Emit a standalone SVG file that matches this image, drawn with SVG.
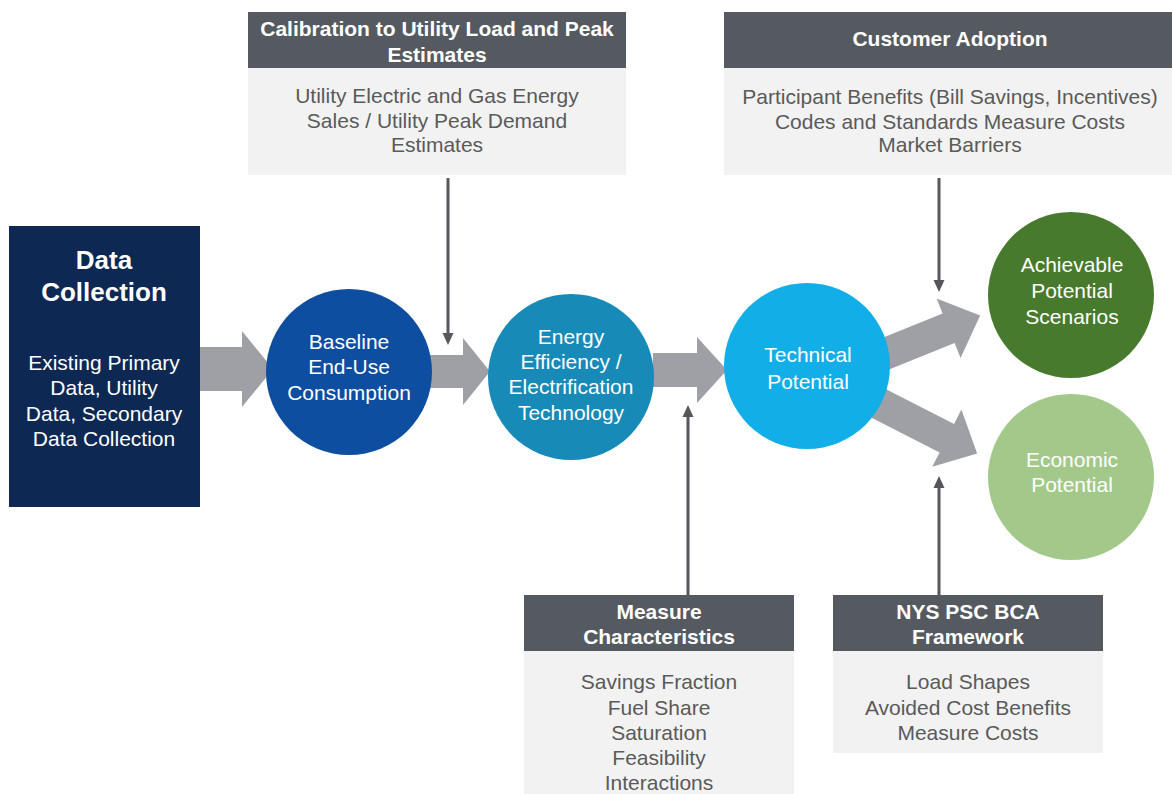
<svg xmlns="http://www.w3.org/2000/svg" width="1172" height="794" viewBox="0 0 1172 794">
  <defs>
    <style>
      .hdr { fill: #555a60; }
      .body { fill: #f2f2f2; }
      .hdr-t { font-family: "Liberation Sans", Arial, sans-serif; font-size: 21px; font-weight: bold; fill: #ffffff; text-anchor: middle; }
      .body-t { font-family: "Liberation Sans", Arial, sans-serif; font-size: 21px; fill: #5a5a5a; text-anchor: middle; }
      .node-t { font-family: "Liberation Sans", Arial, sans-serif; font-size: 21px; fill: #ffffff; text-anchor: middle; }
      .title-t { font-family: "Liberation Sans", Arial, sans-serif; font-size: 26px; font-weight: bold; fill: #ffffff; text-anchor: middle; }
      .flow { fill: #9fa0a5; }
      .feed { stroke: #55575c; stroke-width: 3; fill: none; marker-end: url(#tip); }
    </style>
    <marker id="tip" markerUnits="userSpaceOnUse" markerWidth="12" markerHeight="12" refX="4" refY="6" orient="auto">
      <path d="M0,0.5 L12,6 L0,11.5 z" fill="#55575c"/>
    </marker>
    <!-- broad flow arrow along +x, length 108 -->
    <polygon id="flowUp" points="0,-16 74,-16 74,-32 108,0 74,32 74,16 0,16"/>
    <polygon id="flowDown" points="0,-16 84,-16 84,-32 118,0 84,32 84,16 0,16"/>
  </defs>

  <rect width="1172" height="794" fill="#ffffff"/>

  <!-- connectors -->
  <g id="connectors">
    <polygon class="flow" points="200,347 242,347 242,331 273,369 242,407 242,391 200,391"/>
    <polygon class="flow" points="430,355 463,355 463,338 490,371.5 463,405 463,388 430,388"/>
    <polygon class="flow" points="653,353 697,353 697,337 727,370 697,403 697,387 653,387"/>
    <use href="#flowUp" class="flow" transform="translate(880,356) rotate(-22)"/>
    <use href="#flowDown" class="flow" transform="translate(872,400) rotate(27)"/>

    <line class="feed" x1="448" y1="178" x2="448" y2="337"/>
    <line class="feed" x1="939" y1="178" x2="939" y2="284"/>
    <line class="feed" x1="688" y1="596" x2="688" y2="413"/>
    <line class="feed" x1="939" y1="596" x2="939" y2="484"/>
  </g>

  <!-- input panels -->
  <g id="calibration">
    <rect class="hdr" x="248" y="12" width="378" height="56"/>
    <rect class="body" x="248" y="68" width="378" height="107"/>
    <text class="hdr-t" x="437" y="36">Calibration to Utility Load and Peak</text>
    <text class="hdr-t" x="437" y="62">Estimates</text>
    <text class="body-t" x="437" y="103">Utility Electric and Gas Energy</text>
    <text class="body-t" x="437" y="128">Sales / Utility Peak Demand</text>
    <text class="body-t" x="437" y="152">Estimates</text>
  </g>

  <g id="customer-adoption">
    <rect class="hdr" x="724" y="12" width="452" height="56"/>
    <rect class="body" x="724" y="68" width="452" height="107"/>
    <text class="hdr-t" x="950" y="46">Customer Adoption</text>
    <text class="body-t" x="950" y="104">Participant Benefits (Bill Savings, Incentives)</text>
    <text class="body-t" x="950" y="129">Codes and Standards Measure Costs</text>
    <text class="body-t" x="950" y="152">Market Barriers</text>
  </g>

  <g id="measure-characteristics">
    <rect class="hdr" x="524" y="595" width="270" height="56"/>
    <rect class="body" x="524" y="651" width="270" height="150"/>
    <text class="hdr-t" x="659" y="619">Measure</text>
    <text class="hdr-t" x="659" y="644">Characteristics</text>
    <text class="body-t" x="659" y="689">Savings Fraction</text>
    <text class="body-t" x="659" y="715">Fuel Share</text>
    <text class="body-t" x="659" y="740">Saturation</text>
    <text class="body-t" x="659" y="765">Feasibility</text>
    <text class="body-t" x="659" y="790">Interactions</text>
  </g>

  <g id="bca-framework">
    <rect class="hdr" x="833" y="595" width="270" height="56"/>
    <rect class="body" x="833" y="651" width="270" height="102"/>
    <text class="hdr-t" x="968" y="619">NYS PSC BCA</text>
    <text class="hdr-t" x="968" y="644">Framework</text>
    <text class="body-t" x="968" y="689">Load Shapes</text>
    <text class="body-t" x="968" y="715">Avoided Cost Benefits</text>
    <text class="body-t" x="968" y="740">Measure Costs</text>
  </g>

  <!-- process nodes -->
  <g id="data-collection">
    <rect x="9" y="226" width="191" height="281" fill="#0c2853"/>
    <text class="title-t" x="104" y="269">Data</text>
    <text class="title-t" x="104" y="301">Collection</text>
    <text class="node-t" x="104" y="370">Existing Primary</text>
    <text class="node-t" x="104" y="395">Data, Utility</text>
    <text class="node-t" x="104" y="421">Data, Secondary</text>
    <text class="node-t" x="104" y="446">Data Collection</text>
  </g>

  <g id="baseline">
    <circle cx="349" cy="372" r="83" fill="#0e4ea0"/>
    <text class="node-t" x="349" y="349">Baseline</text>
    <text class="node-t" x="349" y="374">End-Use</text>
    <text class="node-t" x="349" y="400">Consumption</text>
  </g>

  <g id="technology">
    <circle cx="571" cy="377" r="83" fill="#178ab8"/>
    <text class="node-t" x="571" y="344">Energy</text>
    <text class="node-t" x="571" y="369">Efficiency /</text>
    <text class="node-t" x="571" y="394">Electrification</text>
    <text class="node-t" x="571" y="420">Technology</text>
  </g>

  <g id="technical-potential">
    <circle cx="807" cy="366" r="83" fill="#12aee8"/>
    <text class="node-t" x="808" y="362">Technical</text>
    <text class="node-t" x="808" y="389">Potential</text>
  </g>

  <g id="achievable-potential">
    <circle cx="1071" cy="295" r="83" fill="#487a2d"/>
    <text class="node-t" x="1072" y="272">Achievable</text>
    <text class="node-t" x="1072" y="298">Potential</text>
    <text class="node-t" x="1072" y="324">Scenarios</text>
  </g>

  <g id="economic-potential">
    <circle cx="1071" cy="477" r="83" fill="#a3c98a"/>
    <text class="node-t" x="1072" y="467" fill="#f2f7ee">Economic</text>
    <text class="node-t" x="1072" y="492" fill="#f2f7ee">Potential</text>
  </g>
</svg>
